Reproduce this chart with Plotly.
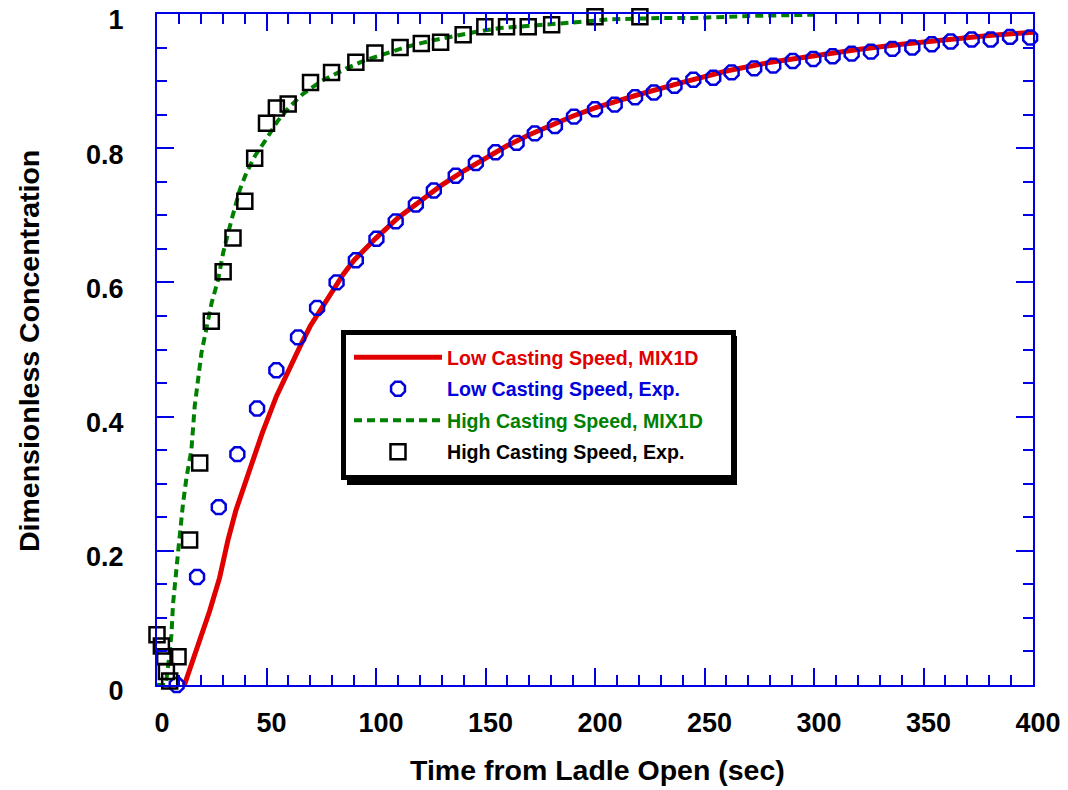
import plotly.graph_objects as go

# Low casting speed: MIX1D model curve
low_model_t = [12.5, 16.5, 20, 24, 28.6, 32.4, 36, 40, 43.1, 48, 54.5, 60, 65.2, 70, 77.4, 85,
               90, 100, 110, 120, 130, 140, 150, 160, 170, 180, 190, 200, 220, 240, 260, 280,
               300, 320, 340, 360, 380, 400]
low_model_c = [0.0, 0.037, 0.07, 0.11, 0.16, 0.216, 0.26, 0.30, 0.331, 0.375, 0.43, 0.47, 0.504,
               0.535, 0.574, 0.612, 0.633, 0.666, 0.696, 0.72, 0.745, 0.766, 0.786, 0.804, 0.82,
               0.835, 0.848, 0.86, 0.88, 0.898, 0.915, 0.928, 0.938, 0.947, 0.955, 0.962, 0.968,
               0.973]

# Low casting speed: measured
low_exp_t = [9, 18.3, 28.2, 36.7, 45.7, 54.5, 64.4, 73.1, 82, 90.8, 100.2, 109, 118.2, 126.4,
             136.4, 145.6, 154.6, 164.2, 172.5, 181.7, 190.4, 200, 209, 218.3, 226.9, 236.3,
             244.9, 254, 262.4, 272.7, 281.4, 290.3, 299.7, 308.5, 317.2, 326, 335.8, 344.9,
             353.8, 362.4, 372, 380.7, 389.5, 398.7]
low_exp_c = [0.0, 0.161, 0.265, 0.344, 0.412, 0.469, 0.518, 0.562, 0.600, 0.633, 0.665, 0.691,
             0.716, 0.737, 0.759, 0.778, 0.794, 0.808, 0.822, 0.833, 0.847, 0.858, 0.865, 0.876,
             0.883, 0.893, 0.902, 0.905, 0.913, 0.919, 0.923, 0.930, 0.933, 0.937, 0.941, 0.944,
             0.948, 0.950, 0.955, 0.959, 0.962, 0.962, 0.966, 0.965]

# High casting speed: MIX1D model curve
high_model_t = [0, 4, 5.5, 6.6, 7.3, 8.9, 9.6, 11.9, 13.5, 15.7, 17.2, 20.3, 22.6, 24.9, 27.9,
                30.2, 34, 37.8, 40.8, 45, 49.2, 55, 60, 66.7, 75, 86.5, 95, 104.8, 115, 125,
                135, 146.6, 156.6, 166, 176.3, 188.5, 206.8, 229.6, 244.9, 270, 299.7]
high_model_c = [0.0, 0.0, 0.04, 0.075, 0.12, 0.18, 0.197, 0.271, 0.31, 0.35, 0.415, 0.495,
                0.529, 0.569, 0.604, 0.644, 0.693, 0.738, 0.763, 0.79, 0.81, 0.84, 0.86, 0.881,
                0.90, 0.919, 0.931, 0.942, 0.952, 0.96, 0.967, 0.974, 0.979, 0.982, 0.984, 0.987,
                0.992, 0.994, 0.994, 0.997, 0.999]

# High casting speed: measured
high_exp_t = [-2, 0, 2, 3.5, 4.3, 5.8, 9.6, 14.9, 19.5, 24.8, 30.2, 34.7, 40.1, 44.6, 50, 54.5,
              59.9, 70.1, 79.7, 90.8, 99.5, 111, 120.7, 129.5, 139.8, 149.7, 159.6, 169.5,
              180.2, 200, 220.5]
high_exp_c = [0.090, 0.075, 0.058, 0.042, 0.020, 0.006, 0.042, 0.216, 0.331, 0.542, 0.616,
              0.666, 0.721, 0.785, 0.837, 0.860, 0.866, 0.898, 0.913, 0.928, 0.942, 0.950,
              0.956, 0.958, 0.969, 0.981, 0.981, 0.981, 0.984, 0.996, 0.996]

series_names = ["Low Casting Speed, MIX1D", "Low Casting Speed, Exp.",
                "High Casting Speed, MIX1D", "High Casting Speed, Exp."]

y_tick_vals = [0, 0.2, 0.4, 0.6, 0.8, 1]
y_tick_text = ["0", "0.2", "0.4", "0.6", "0.8", "1"]

RED = "#e00000"
BLUE = "#0000dd"
GREEN = "#008000"
BLACK = "#000000"
AXIS_BLUE = "#0000e6"
FONT = "Liberation Sans, Arial, Helvetica, sans-serif"


def coloured(text, colour):
    return f"<span style='color:{colour}'>{text}</span>"


fig = go.Figure()

fig.add_trace(go.Scatter(
    x=low_model_t, y=low_model_c, mode="lines", legendgroup="a",
    name=coloured(series_names[0], RED),
    line=dict(color=RED, width=5), cliponaxis=False))

fig.add_trace(go.Scatter(
    x=low_exp_t, y=low_exp_c, mode="markers", legendgroup="b",
    name=coloured(series_names[1], BLUE),
    marker=dict(symbol="octagon-open", size=15, color=BLUE, line=dict(color=BLUE, width=2.5)),
    cliponaxis=False))

fig.add_trace(go.Scatter(
    x=high_model_t, y=high_model_c, mode="lines", legendgroup="c",
    name=coloured(series_names[2], GREEN),
    line=dict(color=GREEN, width=4, dash="8px,5px"), cliponaxis=False))

fig.add_trace(go.Scatter(
    x=high_exp_t, y=high_exp_c, mode="markers", legendgroup="d",
    name=coloured(series_names[3], BLACK),
    marker=dict(symbol="square-open", size=15, color=BLACK, line=dict(color=BLACK, width=2.5)),
    cliponaxis=False))

# plot area in pixels: x 157..1033, y 14..685
L, R, T, B = 157, 1033, 14, 685


def px_x(p):
    return (p - L) / (R - L)


def px_y(p):
    return (B - p) / (B - T)


axis_common = dict(
    showline=True, linecolor=AXIS_BLUE, linewidth=2, mirror="ticks",
    ticks="inside", tickcolor=AXIS_BLUE, tickwidth=2, ticklen=17,
    showgrid=False, zeroline=False, ticklabeloverflow="allow",
    tickfont=dict(family=FONT, size=27, color=BLACK, weight="bold"),
)

fig.update_xaxes(range=[0, 400], tick0=0, dtick=50, ticklabelstandoff=13, ticklabelshift=5,
                 minor=dict(dtick=10, ticks="inside", ticklen=10, tickwidth=2,
                            tickcolor=AXIS_BLUE, showgrid=False),
                 **axis_common)
fig.update_yaxes(range=[0, 1], tickmode="array", tickvals=y_tick_vals, ticktext=y_tick_text,
                 ticklabelstandoff=26, ticklabelshift=6,
                 minor=dict(tickmode="linear", tick0=0, dtick=0.05, ticks="inside", ticklen=10,
                            tickwidth=2, tickcolor=AXIS_BLUE, showgrid=False),
                 **axis_common)

# legend frame with drop shadow
fig.add_shape(type="rect", xref="paper", yref="paper", layer="above",
              x0=px_x(347), x1=px_x(737), y0=px_y(485), y1=px_y(336),
              fillcolor=BLACK, line=dict(width=0))
fig.add_shape(type="rect", xref="paper", yref="paper", layer="above",
              x0=px_x(343.5), x1=px_x(733.5), y0=px_y(477.5), y1=px_y(332.5),
              fillcolor="white", line=dict(color=BLACK, width=5))

# axis titles
fig.add_annotation(text="Time from Ladle Open (sec)", xref="paper", yref="paper",
                   x=px_x(597), y=px_y(770), xanchor="center", yanchor="middle",
                   showarrow=False,
                   font=dict(family=FONT, size=28.5, color=BLACK, weight="bold"))
fig.add_annotation(text="Dimensionless Concentration", xref="paper", yref="paper",
                   x=px_x(29), y=px_y(351), xanchor="center", yanchor="middle",
                   textangle=-90, showarrow=False,
                   font=dict(family=FONT, size=28.5, color=BLACK, weight="bold"))

fig.update_layout(
    width=1068, height=790,
    margin=dict(l=L, r=1068 - R, t=T, b=790 - B, autoexpand=False),
    paper_bgcolor="white", plot_bgcolor="white",
    showlegend=True,
    legend=dict(x=px_x(349), y=px_y(338), xanchor="left", yanchor="top",
                bgcolor="rgba(0,0,0,0)", borderwidth=0,
                itemwidth=88, tracegroupgap=3,
                font=dict(family=FONT, size=19.6, color=BLACK, weight="bold")),
)

fig.write_html("out.html")
